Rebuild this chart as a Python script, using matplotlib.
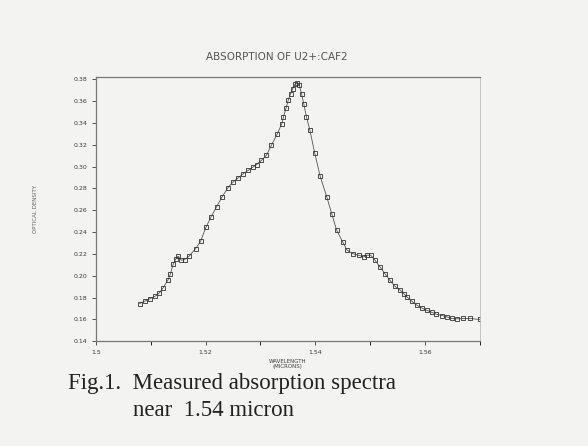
import numpy as np
import matplotlib
matplotlib.use("Agg")
import matplotlib.pyplot as plt

# wavelength (micron) and optical density
wavelength = [1.5080, 1.5089, 1.5099, 1.5108, 1.5116, 1.5123, 1.5132, 1.5136,
              1.5141, 1.5146, 1.5150, 1.5156, 1.5162, 1.5170, 1.5182, 1.5191,
              1.5201, 1.5210, 1.5220, 1.5230, 1.5241, 1.5250, 1.5260, 1.5269,
              1.5278, 1.5287, 1.5293, 1.5302, 1.5311, 1.5320, 1.5331, 1.5339,
              1.5342, 1.5347, 1.5351, 1.5355, 1.5359, 1.5363, 1.5367, 1.5371,
              1.5375, 1.5379, 1.5384, 1.5390, 1.5399, 1.5409, 1.5421, 1.5430,
              1.5439, 1.5450, 1.5458, 1.5468, 1.5479, 1.5488, 1.5494, 1.5501,
              1.5509, 1.5518, 1.5527, 1.5536, 1.5545, 1.5555, 1.5561, 1.5567,
              1.5576, 1.5585, 1.5594, 1.5603, 1.5612, 1.5621, 1.5631, 1.5640,
              1.5649, 1.5658, 1.5670, 1.5682, 1.5700]
density = [0.1745, 0.1766, 0.1791, 0.1812, 0.1843, 0.1892, 0.1965, 0.2020,
           0.2105, 0.2157, 0.2179, 0.2142, 0.2148, 0.2179, 0.2249, 0.2316,
           0.2447, 0.2539, 0.2630, 0.2722, 0.2808, 0.2859, 0.2899, 0.2936,
           0.2966, 0.2997, 0.3018, 0.3058, 0.3104, 0.3195, 0.3302, 0.3394,
           0.3455, 0.3540, 0.3614, 0.3669, 0.3715, 0.3754, 0.3766, 0.3745,
           0.3669, 0.3577, 0.3455, 0.3339, 0.3125, 0.2911, 0.2722, 0.2569,
           0.2417, 0.2310, 0.2234, 0.2203, 0.2188, 0.2173, 0.2188, 0.2188,
           0.2142, 0.2081, 0.2020, 0.1959, 0.1904, 0.1867, 0.1837, 0.1806,
           0.1766, 0.1730, 0.1705, 0.1684, 0.1666, 0.1647, 0.1635, 0.1623,
           0.1608, 0.1605, 0.1608, 0.1608, 0.1599]

x_ticks = [1.50, 1.52, 1.54, 1.56]
y_ticks = np.arange(0.14, 0.381, 0.02)

paper = '#f3f3f1'
ink = '#3a3a3a'

fig = plt.figure(figsize=(5.88, 4.46), dpi=100, facecolor=paper)
ax = fig.add_axes([0.163, 0.235, 0.653, 0.592])
ax.set_facecolor(paper)

ax.plot(wavelength, density, color='#555555', lw=0.6,
        marker='s', ms=3.2, mfc='none', mec='#333333', mew=0.6)

ax.set_xlim(1.50, 1.57)
ax.set_ylim(0.14, 0.382)
ax.set_xticks(x_ticks)
ax.set_xticks(np.arange(1.50, 1.571, 0.01), minor=True)
ax.set_yticks(y_ticks)
ax.set_xticklabels(['1.5', '1.52', '1.54', '1.56'])
ax.set_yticklabels(['%.2f' % v for v in y_ticks])
ax.tick_params(labelsize=4.5, colors=ink, length=3, width=0.6, pad=3)
ax.tick_params(which='minor', length=3, width=0.6)

for s in ['left', 'bottom', 'top']:
    ax.spines[s].set_color('#777777')
    ax.spines[s].set_linewidth(0.9)
ax.spines['right'].set_color('#bbbbbb')
ax.spines['right'].set_linewidth(0.6)

fig.text(0.47, 0.872, 'ABSORPTION OF U2+:CAF2', fontsize=7.5, color='#555555',
         ha='center', va='center')
ax.set_xlabel('WAVELENGTH\n(MICRONS)', fontsize=4, color=ink, labelpad=3)
ax.set_ylabel('OPTICAL DENSITY', fontsize=4, color='#666666', labelpad=26)

fig.text(0.115, 0.14, 'Fig.1.  Measured absorption spectra',
         family='Liberation Serif', fontsize=16.5, color='#222222', va='center')
fig.text(0.226, 0.08, 'near  1.54 micron',
         family='Liberation Serif', fontsize=16.5, color='#222222', va='center')

fig.savefig('out.png', dpi=100, facecolor=paper)
